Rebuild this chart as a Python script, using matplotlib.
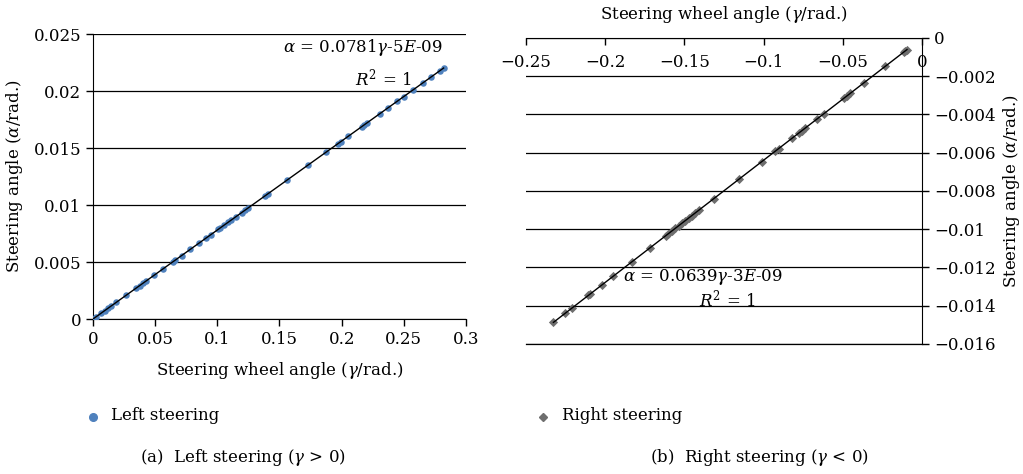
import numpy as np
import matplotlib
matplotlib.use('Agg')
import matplotlib.pyplot as plt
from matplotlib.ticker import FuncFormatter

plt.rcParams['font.family'] = ['DejaVu Serif']
plt.rcParams['mathtext.fontset'] = 'dejavuserif'
plt.rcParams['axes.unicode_minus'] = True

# Left steering (gamma > 0): steering wheel angle vs steering angle
left_x = [0.0013, 0.0027, 0.0067, 0.0094, 0.0121, 0.0148, 0.0188, 0.0269, 0.0349, 0.0376,
          0.0403, 0.0430, 0.0492, 0.0564, 0.0645, 0.0658, 0.0712, 0.0784, 0.0849, 0.0905,
          0.0948, 0.1007, 0.1021, 0.1056, 0.1088, 0.1109, 0.1150, 0.1195, 0.1222, 0.1249,
          0.1383, 0.1410, 0.1563, 0.1732, 0.1872, 0.1969, 0.1993, 0.2055, 0.2162, 0.2176,
          0.2200, 0.2305, 0.2372, 0.2444, 0.2498, 0.2573, 0.2651, 0.2721, 0.2788, 0.2820]
left_y = [0.000102, 0.000211, 0.000523, 0.000734, 0.000945, 0.001156, 0.001468, 0.002101, 0.002726, 0.002937,
          0.003147, 0.003358, 0.003843, 0.004405, 0.005037, 0.005139, 0.005561, 0.006123, 0.006631, 0.007068,
          0.007404, 0.007865, 0.007974, 0.008247, 0.008497, 0.008661, 0.008982, 0.009333, 0.009544, 0.009755,
          0.010801, 0.011012, 0.012207, 0.013527, 0.014620, 0.015378, 0.015565, 0.016050, 0.016885, 0.016995,
          0.017182, 0.018002, 0.018525, 0.019088, 0.019509, 0.020095, 0.020704, 0.021251, 0.021774, 0.022024]

# Right steering (gamma < 0)
right_x = [-0.2327, -0.2254, -0.2211, -0.2106, -0.2096, -0.2022, -0.1948, -0.1832, -0.1717, -0.1618,
           -0.1601, -0.1580, -0.1559, -0.1537, -0.1516, -0.1495, -0.1474, -0.1453, -0.1432, -0.1411,
           -0.1316, -0.1158, -0.1011, -0.0927, -0.0906, -0.0821, -0.0779, -0.0758, -0.0737, -0.0663,
           -0.0621, -0.0495, -0.0474, -0.0453, -0.0369, -0.0232, -0.0116, -0.0105, -0.0095]
right_y = [-0.014870, -0.014403, -0.014128, -0.013457, -0.013393, -0.012921, -0.012448, -0.011706, -0.010972, -0.010339,
           -0.010230, -0.010096, -0.009962, -0.009821, -0.009687, -0.009553, -0.009419, -0.009285, -0.009150, -0.009016,
           -0.008409, -0.007400, -0.006460, -0.005924, -0.005789, -0.005246, -0.004978, -0.004844, -0.004709, -0.004237,
           -0.003968, -0.003163, -0.003029, -0.002895, -0.002358, -0.001482, -0.000741, -0.000671, -0.000607]

left_xticks = [0, 0.05, 0.1, 0.15, 0.2, 0.25, 0.3]
left_yticks = [0, 0.005, 0.01, 0.015, 0.02, 0.025]
right_xticks = [-0.25, -0.2, -0.15, -0.1, -0.05, 0]
right_yticks = [0, -0.002, -0.004, -0.006, -0.008, -0.01, -0.012, -0.014, -0.016]

fs = 12
tfs = 12
gfmt = FuncFormatter(lambda v, p: ('%g' % v).replace('-', '\u2212'))

fig = plt.figure(figsize=(10.23, 4.74), dpi=100)

# ---- left panel ----
ax1 = fig.add_axes([0.0909, 0.327, 0.3646, 0.601])
ax1.scatter(left_x, left_y, s=22, color='#4F81BD', zorder=3, linewidths=0)
k1, b1 = np.polyfit(left_x, left_y, 1)
lx = np.array([0, max(left_x)])
ax1.plot(lx, k1 * lx + b1, color='black', lw=1, zorder=4)
ax1.set_xlim(0, 0.3)
ax1.set_ylim(0, 0.025)
ax1.set_xticks(left_xticks)
ax1.set_yticks(left_yticks)
ax1.xaxis.set_major_formatter(gfmt)
ax1.yaxis.set_major_formatter(gfmt)
ax1.yaxis.grid(True, color='black', lw=0.9)
ax1.set_axisbelow(True)
for s in ['top', 'right']:
    ax1.spines[s].set_visible(False)
ax1.tick_params(direction='out', length=5, labelsize=tfs, width=1)
ax1.set_xlabel('Steering wheel angle ($\\gamma$/rad.)', fontsize=fs, labelpad=9)
ax1.set_ylabel('Steering angle ($\\alpha$/rad.)', fontsize=fs, labelpad=6)
ax1.text(0.938, 0.954, '$\\alpha$ = 0.0781$\\gamma$-5$E$-09', transform=ax1.transAxes,
         ha='right', va='center', fontsize=fs)
ax1.text(0.853, 0.846, '$R^2$ = 1', transform=ax1.transAxes, ha='right', va='center', fontsize=fs)

# ---- right panel ----
ax2 = fig.add_axes([0.5142, 0.2743, 0.3871, 0.6456])
ax2.scatter(right_x, right_y, s=22, marker='D', color='#6E6E6E', zorder=3, linewidths=0)
k2, b2 = np.polyfit(right_x, right_y, 1)
rx = np.array([min(right_x), max(right_x)])
ax2.plot(rx, k2 * rx + b2, color='black', lw=1, zorder=4)
ax2.set_xlim(-0.25, 0)
ax2.set_ylim(-0.016, 0)
ax2.set_xticks(right_xticks)
ax2.set_yticks(right_yticks)
ax2.xaxis.set_major_formatter(gfmt)
ax2.yaxis.set_major_formatter(gfmt)
ax2.yaxis.grid(True, color='black', lw=0.9)
ax2.set_axisbelow(True)
ax2.spines['left'].set_visible(False)
ax2.spines['bottom'].set_linewidth(0.9)
ax2.xaxis.set_ticks_position('top')
ax2.xaxis.set_label_position('top')
ax2.yaxis.set_ticks_position('right')
ax2.yaxis.set_label_position('right')
ax2.tick_params(axis='x', direction='in', length=5, labelsize=tfs, pad=-24, width=1)
ax2.tick_params(axis='y', direction='out', length=5, labelsize=tfs, width=1)
ax2.set_xlabel('Steering wheel angle ($\\gamma$/rad.)', fontsize=fs, labelpad=14)
ax2.set_ylabel('Steering angle ($\\alpha$/rad.)', fontsize=fs, labelpad=4)
ax2.text(0.245, 0.219, '$\\alpha$ = 0.0639$\\gamma$-3$E$-09', transform=ax2.transAxes,
         ha='left', va='center', fontsize=fs)
ax2.text(0.508, 0.144, '$R^2$ = 1', transform=ax2.transAxes, ha='center', va='center', fontsize=fs)

# ---- legends and captions ----
fig.lines.append(plt.Line2D([93 / 1023], [1 - 417 / 474], transform=fig.transFigure,
                            marker='o', ms=5.5, color='#4F81BD', ls='none'))
fig.text(111 / 1023, 1 - 416 / 474, 'Left steering', fontsize=fs, va='center')
fig.lines.append(plt.Line2D([543 / 1023], [1 - 417 / 474], transform=fig.transFigure,
                            marker='D', ms=4, color='#6E6E6E', ls='none'))
fig.text(562 / 1023, 1 - 416 / 474, 'Right steering', fontsize=fs, va='center')
fig.text(140 / 1023, 1 - 458 / 474, '(a)  Left steering ($\\gamma$ > 0)', fontsize=fs, va='center')
fig.text(650 / 1023, 1 - 458 / 474, '(b)  Right steering ($\\gamma$ < 0)', fontsize=fs, va='center')

fig.savefig('out.png', dpi=100)
